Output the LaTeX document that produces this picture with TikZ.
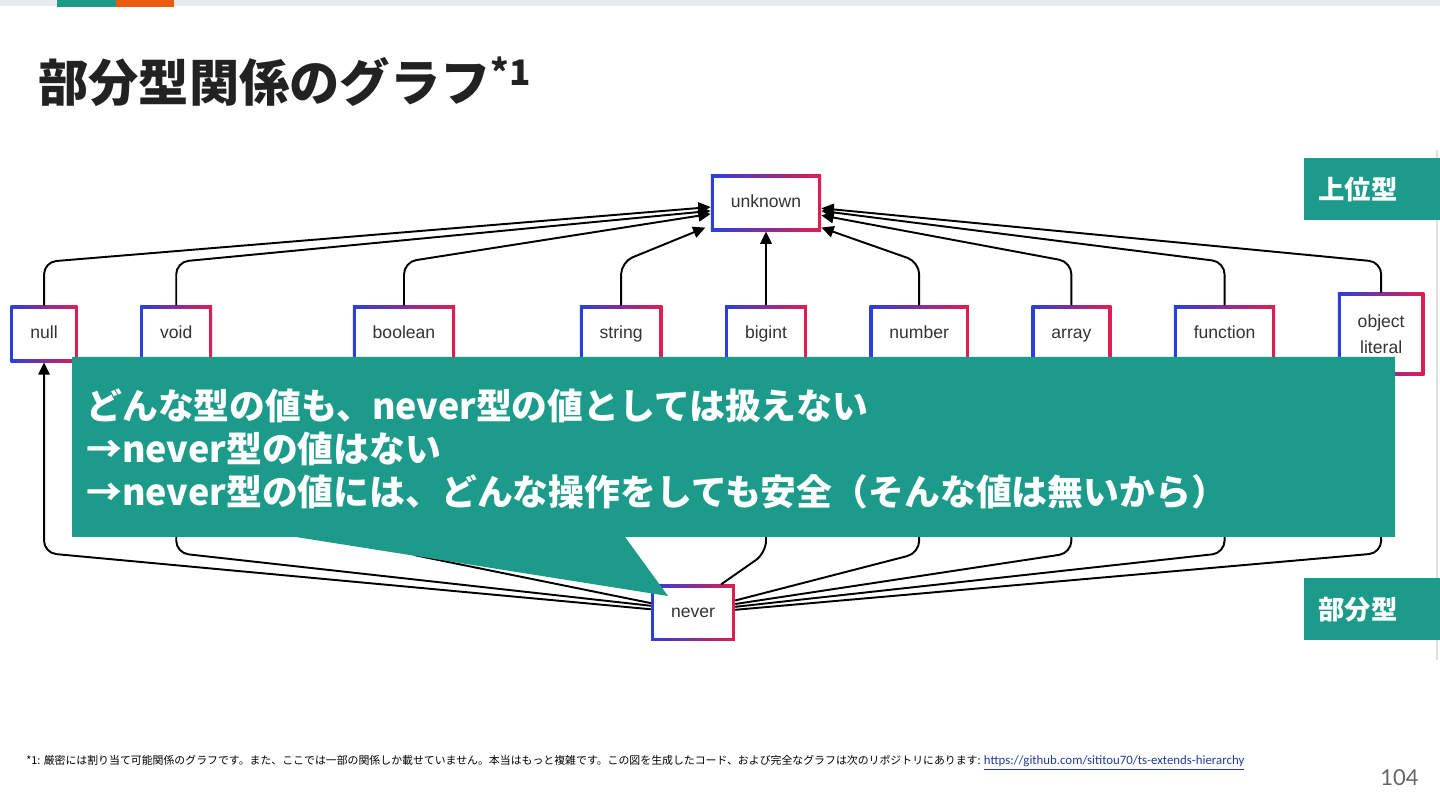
\documentclass[tikz,border=0pt]{standalone}
\usepackage{fontspec}
\setmainfont{Liberation Sans}
\newfontfamily\jpfont{Noto Sans CJK JP}
\newfontfamily\urlfont{Carlito}
\newfontfamily\numfont{Lato}
\usetikzlibrary{arrows.meta}
\usetikzlibrary{positioning}
\definecolor{slideteal}{HTML}{1C9A8A}
\definecolor{slideorange}{HTML}{EC5A12}
\definecolor{bargray}{HTML}{E8EBEE}
\definecolor{boxblue}{HTML}{2A3FDC}
\definecolor{boxred}{HTML}{E01E50}
\definecolor{titlegray}{HTML}{222222}
\definecolor{linkblue}{HTML}{1F3C9C}
\tikzset{
  tbox/.style={rectangle, minimum height=32pt, inner xsep=11.3pt, inner ysep=3pt,
    font=\fontsize{10}{12}\selectfont, text=black!80,
    left color=boxblue, right color=boxred,
    path picture={\fill[white] ([shift={(1.7pt,1.7pt)}]path picture bounding box.south west)
      rectangle ([shift={(-1.7pt,-1.7pt)}]path picture bounding box.north east);}},
  tline/.style={tbox, text height=7.3pt, text depth=2.2pt},
  sub/.style={-{Triangle[length=7pt,width=6.5pt]}, line width=1.1pt, rounded corners=7pt},
  tab/.style={fill=slideteal, text=white, anchor=north west, minimum width=2.72cm,
    minimum height=1.24cm, text width=2.16cm, inner xsep=0.28cm, align=left,
    font=\jpfont\bfseries\fontsize{15}{18}\selectfont}
}
\begin{document}
\begin{tikzpicture}[x=0.02cm, y=-0.02cm, node distance=1.24cm]
  \useasboundingbox (0,0) rectangle (1440,810);
  % top bar
  \fill[bargray] (0,0) rectangle (1440,6);
  \fill[slideteal] (57,0) rectangle (116,7);
  \fill[slideorange] (116,0) rectangle (174,7);

  \node[anchor=west, inner sep=0, text=titlegray,
    font=\jpfont\bfseries\fontsize{28.6}{32}\selectfont] (title) at (38,82)
    {部分型関係のグラフ\textsuperscript{*1}};

  \draw[black!12, line width=1.5pt] (1437,150) -- (1437,660);

  % graph
  \coordinate (high) at (0,262);
  \coordinate (low) at (0,553);
  \node[tline] (unknown) at (766,203) {unknown};
  \node[tline, below=1.48cm of unknown] (bigint) {bigint};
  \node[tline, left=of bigint] (string) {string};
  \node[tline, left=2.48cm of string] (boolean) {boolean};
  \node[tline, left=2.8cm of boolean] (void) {void};
  \node[tline, left=of void] (null) {null};
  \node[tline, right=of bigint] (number) {number};
  \node[tline, right=of number] (array) {array};
  \node[tline, right=of array] (function) {function};
  \node[tbox, right=of function, minimum height=47pt, align=center] (object) {object\\[2.7pt]literal};
  \node[tline, below=4.44cm of bigint, xshift=-1.46cm] (never) {never};

  % up to unknown
  \draw[sub] (null.north) -- (null.north |- high) -- ([yshift=-2.3pt]unknown.west);
  \draw[sub] (void.north) -- (void.north |- high) -- ([yshift=-4.5pt]unknown.west);
  \draw[sub] (boolean.north) -- (boolean.north |- high) -- ([yshift=-6.2pt]unknown.west);
  \draw[sub] (string.north) -- (string.north |- high) -- ([xshift=-3pt,yshift=-14pt]unknown.west);
  \draw[sub] (bigint.north) -- (unknown.south);
  \draw[sub] (number.north) -- (number.north |- high) -- ([yshift=-14pt]unknown.east);
  \draw[sub] (array.north) -- (array.north |- high) -- ([yshift=-7pt]unknown.east);
  \draw[sub] (function.north) -- (function.north |- high) -- ([yshift=-4.5pt]unknown.east);
  \draw[sub] (object.north) -- (object.north |- high) -- ([yshift=-3pt]unknown.east);

  % up from never
  \draw[sub] ([yshift=2pt]never.west) -- (null.south |- low) -- (null.south);
  \draw[sub] ([yshift=4pt]never.west) -- (void.south |- low) -- (void.south);
  \draw[sub] ([yshift=5.5pt]never.west) -- (boolean.south |- low) -- (boolean.south);
  \draw[sub] (never.north west) -- (string.south |- low) -- (string.south);
  \draw[sub] ([xshift=-8pt]never.north east) -- (bigint.south |- low) -- (bigint.south);
  \draw[sub] ([yshift=7pt]never.east) -- (number.south |- low) -- (number.south);
  \draw[sub] ([yshift=5pt]never.east) -- (array.south |- low) -- (array.south);
  \draw[sub] ([yshift=3.4pt]never.east) -- (function.south |- low) -- (function.south);
  \draw[sub] ([yshift=1.7pt]never.east) -- (object.south |- low) -- (object.south);

  % speech bubble
  \fill[slideteal] (72,357) -- (1395,357) -- (1395,537) -- (625,537) -- (668,596)
    -- (296,537) -- (72,537) -- cycle;
  \node[anchor=north west, inner sep=0, align=left, text=white,
    font=\jpfont\bfseries\fontsize{20.4}{24.7}\selectfont] (msg) at (86,388)
    {どんな型の値も、never型の値としては扱えない\\
     →never型の値はない\\
     →never型の値には、どんな操作をしても安全（そんな値は無いから）};

  % side tabs
  \node[tab] (upper) at (1304,158) {上位型};
  \node[tab] (lower) at (1304,578) {部分型};

  % footnote
  \node[anchor=west, inner sep=0, font=\jpfont\fontsize{6.2}{7}\selectfont] (note) at (26,763)
    {*1: 厳密には割り当て可能関係のグラフです。また、ここでは一部の関係しか載せていません。本当はもっと複雑です。この図を生成したコード、および完全なグラフは次のリポジトリにあります: {\urlfont\fontsize{7.3}{8}\selectfont\color{linkblue}\underline{https://github.com/sititou70/ts-extends-hierarchy}}};
  \node[anchor=east, inner sep=0, text=black!60, font=\numfont\fontsize{12.5}{14}\selectfont] (page) at (1419,778) {104};
\end{tikzpicture}
\end{document}
